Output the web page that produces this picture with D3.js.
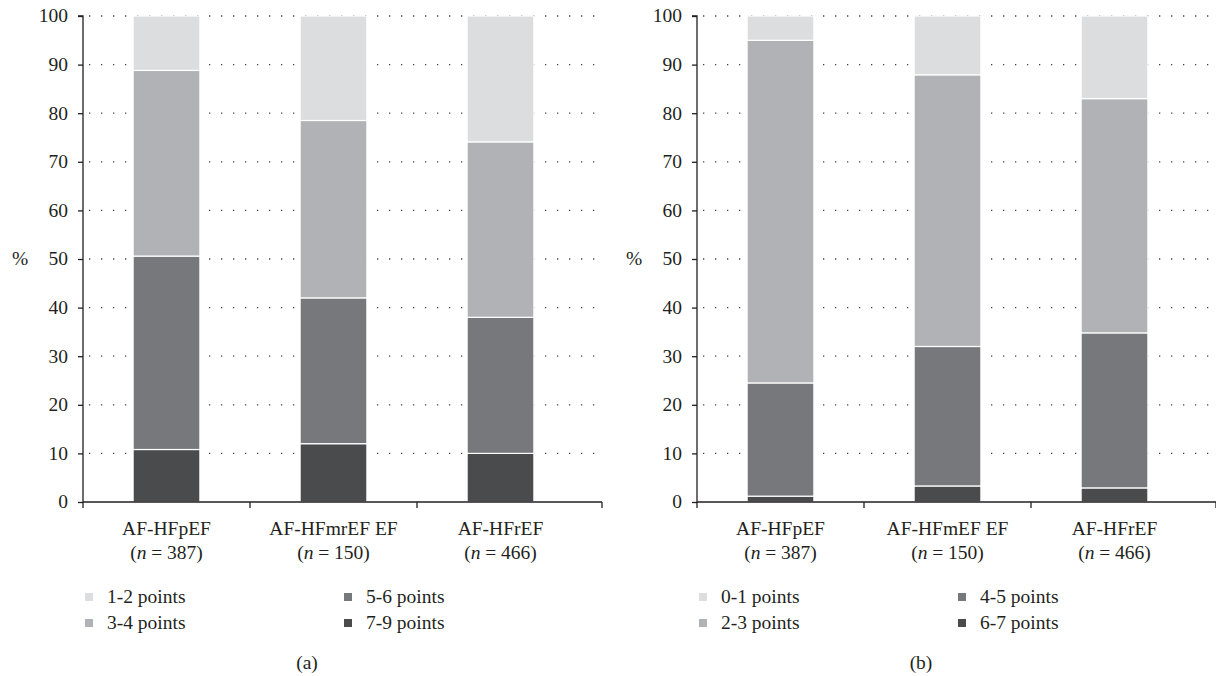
<!DOCTYPE html>
<html>
<head>
<meta charset="utf-8">
<script src="https://cdn.jsdelivr.net/npm/d3@7"></script>
<style>
  body { margin: 0; background: #fff; }
</style>
</head>
<body>
<div id="chart"></div>
<script>
// categories per panel
const groupsA = ["AF-HFpEF", "AF-HFmrEF EF", "AF-HFrEF"];
const groupsB = ["AF-HFpEF", "AF-HFmEF EF", "AF-HFrEF"];
const sizes = [387, 150, 466];

// series (bottom to top), percent
const seriesA = ["7-9 points", "5-6 points", "3-4 points", "1-2 points"];
const valuesA = [
  [10.8, 12.0, 10.0],
  [39.8, 30.0, 28.0],
  [38.2, 36.5, 36.1],
  [11.2, 21.5, 25.9]
];
const seriesB = ["6-7 points", "4-5 points", "2-3 points", "0-1 points"];
const valuesB = [
  [1.2, 3.3, 2.9],
  [23.3, 28.7, 31.9],
  [70.5, 55.9, 48.2],
  [5.0, 12.1, 17.0]
];
const yTicks = [0, 10, 20, 30, 40, 50, 60, 70, 80, 90, 100];
const colors = ["#4a4b4d", "#77787c", "#b1b2b5", "#dcdddf"];

const FONT = "'Liberation Serif', 'DejaVu Serif', serif";
const FS = "19.5px";

const svg = d3.select("#chart").append("svg")
  .attr("width", 1216).attr("height", 676)
  .style("font-family", FONT);

function txt(sel) {
  return sel.style("font-family", FONT).style("font-size", FS).attr("fill", "#231f20");
}

function panel(opt) {
  const { left, axisEnd, groups, series, values, tag } = opt;
  const top = 16, bottom = 502, bandW = 167;
  const g = svg.append("g");

  const x = d3.scaleBand().domain(groups).range([left, left + bandW * groups.length]);
  const y = d3.scaleLinear().domain([0, 100]).range([bottom, top]);

  // dotted grid
  g.selectAll(".grid").data(yTicks.filter(d => d > 0)).join("line")
    .attr("x1", left + 6).attr("x2", axisEnd)
    .attr("y1", d => y(d)).attr("y2", d => y(d))
    .attr("stroke", "#444").attr("stroke-width", 1.3)
    .attr("stroke-dasharray", "1.3,10.7");

  // stacked bars
  const rows = groups.map((grp, i) => {
    const r = { grp };
    series.forEach((s, k) => (r[s] = values[k][i]));
    return r;
  });
  const stacked = d3.stack().keys(series)(rows);
  g.selectAll(".layer").data(stacked).join("g")
    .attr("fill", (d, k) => colors[k])
    .selectAll("rect").data(d => d).join("rect")
    .attr("x", d => x(d.data.grp) + x.bandwidth() * 0.3)
    .attr("width", x.bandwidth() * 0.4)
    .attr("y", d => y(d[1]))
    .attr("height", d => y(d[0]) - y(d[1]))
    .attr("stroke", "#fff").attr("stroke-width", 1.2);

  // y axis
  const yAxis = g.append("g").attr("transform", `translate(${left},0)`)
    .call(d3.axisLeft(y).tickValues(yTicks).tickSize(5).tickPadding(10));
  yAxis.attr("font-family", null).attr("font-size", null);
  yAxis.select(".domain").attr("stroke", "#231f20").attr("stroke-width", 1.3).attr("d", `M-5,${top}H0V${bottom}`);
  yAxis.selectAll(".tick line").attr("stroke", "#231f20").attr("stroke-width", 1.3);
  txt(yAxis.selectAll(".tick text")).attr("dy", "0.3em");

  // x axis
  g.append("line").attr("x1", left).attr("x2", axisEnd)
    .attr("y1", bottom).attr("y2", bottom)
    .attr("stroke", "#231f20").attr("stroke-width", 1.3);
  const bounds = groups.map(d => x(d)).concat([axisEnd]);
  g.selectAll(".xt").data(bounds).join("line")
    .attr("x1", d => d).attr("x2", d => d)
    .attr("y1", bottom).attr("y2", bottom + 6)
    .attr("stroke", "#231f20").attr("stroke-width", 1.3);

  const lab = txt(g.selectAll(".xl").data(groups).join("text")
    .attr("text-anchor", "middle"));
  lab.append("tspan")
    .attr("x", d => x(d) + x.bandwidth() / 2).attr("y", 535)
    .text(d => d);
  const t2 = lab.append("tspan")
    .attr("x", d => x(d) + x.bandwidth() / 2).attr("y", 559);
  t2.append("tspan").text("(");
  t2.append("tspan").attr("font-style", "italic").text("n");
  t2.append("tspan").text((d, i) => " = " + sizes[i] + ")");

  // % label
  txt(g.append("text").attr("x", left - 71).attr("y", y(50)).attr("dy", "0.3em")).text("%");

  // legend
  const order = [series[3], series[2], series[1], series[0]];
  const leg = g.selectAll(".lg").data(order).join("g")
    .attr("transform", (d, i) => `translate(${left + 6 + Math.floor(i / 2) * 259},${597 + (i % 2) * 26})`);
  leg.append("rect").attr("x", -4).attr("y", -4).attr("width", 8).attr("height", 8)
    .attr("fill", d => colors[series.indexOf(d)]);
  txt(leg.append("text").attr("x", 18).attr("y", 0).attr("dy", "0.33em")).text(d => d);

  txt(g.append("text").attr("x", left + 224).attr("y", 669)
    .attr("text-anchor", "middle")).text(tag);
}

panel({ left: 83, axisEnd: 602, groups: groupsA, series: seriesA, values: valuesA, tag: "(a)" });
panel({ left: 697, axisEnd: 1216, groups: groupsB, series: seriesB, values: valuesB, tag: "(b)" });
</script>
</body>
</html>
